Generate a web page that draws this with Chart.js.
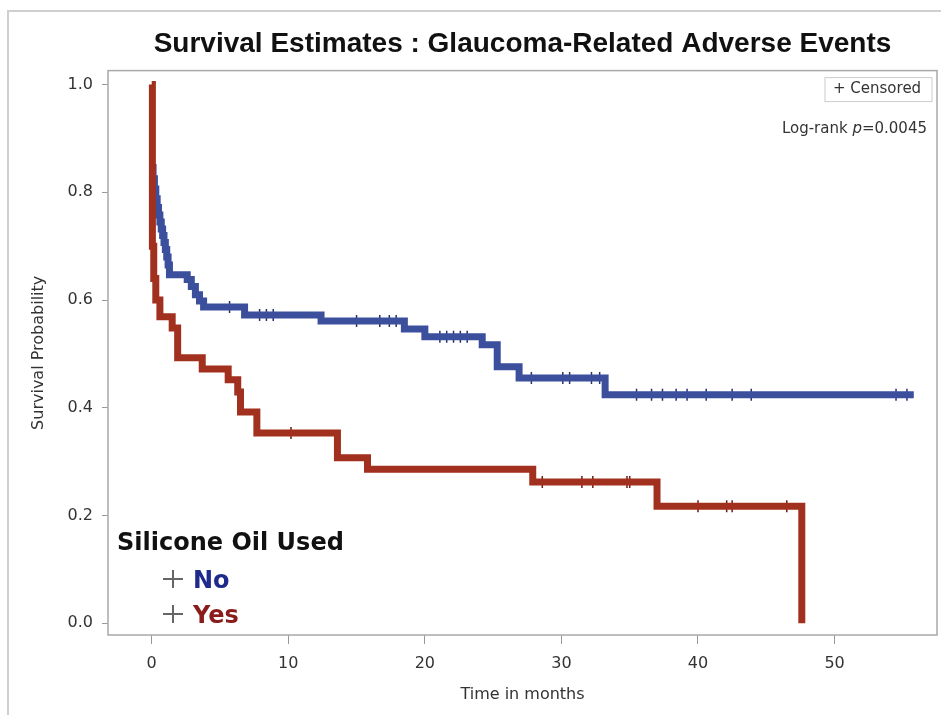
<!DOCTYPE html>
<html>
<head>
<meta charset="utf-8">
<title>Survival Estimates</title>
<script src="https://cdn.jsdelivr.net/npm/chart.js@4.4.0/dist/chart.umd.min.js"></script>
<style>
  html, body { margin: 0; padding: 0; background: #fff; }
  #wrap { width: 941px; height: 715px; }
</style>
</head>
<body>
<div id="wrap"><canvas id="km" width="941" height="715"></canvas></div>
<script>
Chart.defaults.font.family = "'DejaVu Sans', sans-serif";
Chart.defaults.font.size   = 16;
Chart.defaults.color       = '#333';

// Kaplan-Meier steps: time (months) of each drop and survival after it
const yesTime = [0, 0.05, 0.15, 0.3, 0.6, 1.5, 1.9, 3.7, 5.6, 6.3, 6.5, 7.7, 13.6, 15.8, 27.9, 37.0, 47.6];
const yesSurv = [1.0, 0.70, 0.64, 0.60, 0.569, 0.548, 0.493, 0.472, 0.452, 0.429, 0.392, 0.353, 0.307, 0.286, 0.262, 0.217, 0];

const noTime = [0, 0.1, 0.2, 0.3, 0.4, 0.5, 0.6, 0.7, 0.8, 0.9, 1.0, 1.1, 1.2, 1.3,
                2.6, 2.9, 3.2, 3.5, 3.8, 6.8, 12.4, 18.5, 20.0, 24.2, 25.3, 26.9, 33.2, 55.8];
const noSurv = [0.846, 0.825, 0.806, 0.788, 0.772, 0.758, 0.745, 0.732, 0.72, 0.707, 0.694, 0.68, 0.665, 0.647,
                0.638, 0.625, 0.61, 0.598, 0.587, 0.572, 0.561, 0.546, 0.532, 0.517, 0.476, 0.455, 0.424, 0.424];

// Censoring times
const yesCensored = [10.2, 28.6, 31.5, 32.3, 34.8, 35.0, 40.0, 42.1, 42.5, 46.5];
const noCensored  = [5.7, 7.9, 8.4, 8.9, 15.0, 16.7, 17.4, 17.9, 21.1, 21.6, 22.1, 22.6, 23.1,
                     27.8, 30.1, 30.6, 32.2, 32.8, 35.5, 36.6, 37.4, 38.4, 39.2, 40.6, 42.5, 43.9, 54.5, 55.3];

const xTicks = [0, 10, 20, 30, 40, 50];
const yTicks = [0, 0.2, 0.4, 0.6, 0.8, 1.0];

const BLUE = '#3c4f9d', RED = '#a2301f';

const steps = (times, surv) => times.map((t, i) => ({ x: t, y: surv[i] }));
const survAt = (times, surv, t) => {
  let s = surv[0];
  times.forEach((tt, i) => { if (tt <= t) s = surv[i]; });
  return s;
};
const marks = (cens, times, surv) => cens.map(t => ({ x: t, y: survAt(times, surv, t) }));

// Frame, outer border, group legend and notes
const decorations = {
  id: 'decorations',
  beforeDraw(chart) {
    const { ctx, width, height } = chart;
    ctx.save();
    ctx.fillStyle = '#fff';
    ctx.fillRect(0, 0, width, height);
    ctx.strokeStyle = '#cfcfcf';
    ctx.lineWidth = 2;
    ctx.beginPath();
    ctx.moveTo(8, height);
    ctx.lineTo(8, 11);
    ctx.lineTo(width, 11);
    ctx.stroke();
    ctx.restore();
  },
  beforeDatasetsDraw(chart) {
    const { ctx, chartArea: a } = chart;
    ctx.save();
    ctx.strokeStyle = '#a8a8a8';
    ctx.lineWidth = 1.5;
    ctx.strokeRect(a.left, a.top, a.right - a.left, a.bottom - a.top);
    ctx.restore();
  },
  afterDraw(chart) {
    const { ctx, chartArea: a } = chart;
    ctx.save();

    // group legend, bottom-left inside the plot
    const lx = a.left + 9, ly = a.bottom - 85;
    ctx.fillStyle = '#111';
    ctx.font = "bold 24px 'DejaVu Sans'";
    ctx.textBaseline = 'alphabetic';
    ctx.fillText('Silicone Oil Used', lx, ly);

    const rows = [['No', '#1f2a8c'], ['Yes', '#8b1c1c']];
    rows.forEach(([label, color], i) => {
      const by = ly + 38 + i * 35;
      const cx = lx + 56, cy = by - 9;
      ctx.strokeStyle = '#666';
      ctx.lineWidth = 2;
      ctx.beginPath();
      ctx.moveTo(cx - 10, cy); ctx.lineTo(cx + 10, cy);
      ctx.moveTo(cx, cy - 9);  ctx.lineTo(cx, cy + 9);
      ctx.stroke();
      ctx.fillStyle = color;
      ctx.fillText(label, lx + 76, by);
    });

    // censored key
    ctx.strokeStyle = '#cccccc';
    ctx.lineWidth = 1;
    ctx.strokeRect(a.right - 112, a.top + 7, 107, 24);
    ctx.fillStyle = '#333';
    ctx.font = "15px 'DejaVu Sans'";
    ctx.textBaseline = 'middle';
    ctx.fillText('+ Censored', a.right - 104, a.top + 19);

    // log-rank note, right aligned
    const parts = [['Log-rank ', "15px 'DejaVu Sans'"], ['p', "italic 15px 'DejaVu Sans'"], ['=0.0045', "15px 'DejaVu Sans'"]];
    let total = 0;
    parts.forEach(([s, f]) => { ctx.font = f; total += ctx.measureText(s).width; });
    let x = a.right - 10 - total;
    parts.forEach(([s, f]) => { ctx.font = f; ctx.fillText(s, x, a.top + 59); x += ctx.measureText(s).width; });

    ctx.restore();
  }
};

new Chart(document.getElementById('km'), {
  type: 'scatter',
  data: {
    datasets: [
      {
        label: 'Yes',
        data: steps(yesTime, yesSurv),
        showLine: true,
        stepped: true,
        borderColor: RED,
        borderWidth: 7,
        borderJoinStyle: 'miter',
        pointRadius: 0,
      },
      {
        label: 'Yes censored',
        data: marks(yesCensored, yesTime, yesSurv),
        pointStyle: 'cross',
        pointRadius: 6,
        borderWidth: 1.5,
        borderColor: '#6e1a10',
      },
      {
        label: 'No',
        data: steps(noTime, noSurv),
        showLine: true,
        stepped: true,
        borderColor: BLUE,
        borderWidth: 7,
        borderJoinStyle: 'miter',
        pointRadius: 0,
      },
      {
        label: 'No censored',
        data: marks(noCensored, noTime, noSurv),
        pointStyle: 'cross',
        pointRadius: 6,
        borderWidth: 1.5,
        borderColor: '#24336e',
      },
    ]
  },
  options: {
    responsive: false,
    animation: false,
    layout: { autoPadding: false, padding: { left: 0, right: 4, top: 0, bottom: 0 } },
    plugins: {
      legend: { display: false },
      tooltip: { enabled: false },
      title: {
        display: true,
        fullSize: false,
        text: 'Survival Estimates : Glaucoma-Related Adverse Events',
        color: '#111',
        font: { family: "'Liberation Sans', Arial, sans-serif", size: 28, weight: 'bold' },
        padding: { top: 27, bottom: 10 },
      },
    },
    scales: {
      x: {
        type: 'linear',
        min: -3.2,
        max: 57.5,
        afterFit: s => { s.height = 80; },
        afterBuildTicks: s => { s.ticks = xTicks.map(v => ({ value: v })); },
        grid: { display: true, drawOnChartArea: false, tickLength: 9, color: '#999' },
        border: { display: false },
        ticks: { padding: 10, color: '#333', font: { size: 16 } },
        title: { display: true, text: 'Time in months', color: '#333', font: { size: 16 }, padding: { bottom: 11 } },
      },
      y: {
        type: 'linear',
        min: -0.022,
        max: 1.026,
        afterFit: s => { s.width = 108; },
        afterBuildTicks: s => { s.ticks = yTicks.map(v => ({ value: v })); },
        grid: { display: true, drawOnChartArea: false, tickLength: 6, color: '#999' },
        border: { display: false },
        ticks: { padding: 9, color: '#333', font: { size: 16 }, callback: v => v.toFixed(1) },
        title: { display: true, text: 'Survival Probability', color: '#333', font: { size: 16 }, padding: { top: 29 } },
      }
    }
  },
  plugins: [decorations]
});
</script>
</body>
</html>
